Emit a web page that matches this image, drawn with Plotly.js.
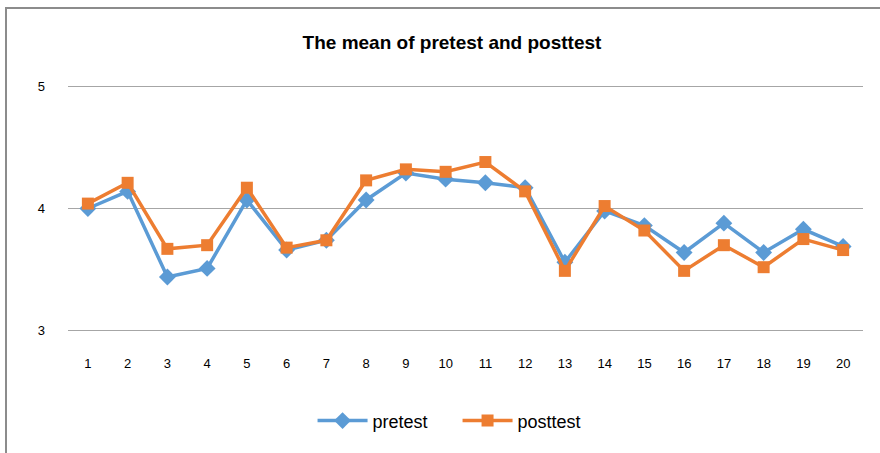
<!DOCTYPE html>
<html>
<head>
<meta charset="utf-8">
<script src="https://cdn.plot.ly/plotly-3.0.1.min.js"></script>
<style>
html,body{margin:0;padding:0;background:#fff;}
#wrap{position:relative;width:880px;height:453px;overflow:hidden;}
#chart{position:absolute;left:0;top:0;width:880px;height:453px;}
#frame{position:absolute;left:5px;top:7px;width:900px;height:480px;border-left:2px solid #8c8c8c;border-top:2px solid #8c8c8c;pointer-events:none;}
</style>
</head>
<body>
<div id="wrap"><div id="chart"></div><div id="frame"></div></div>
<script>
const categories = [1,2,3,4,5,6,7,8,9,10,11,12,13,14,15,16,17,18,19,20];
const pretest  = [4.00,4.14,3.44,3.51,4.07,3.66,3.74,4.07,4.29,4.24,4.21,4.17,3.56,3.98,3.86,3.64,3.88,3.64,3.83,3.69];
const posttest = [4.04,4.21,3.67,3.70,4.17,3.68,3.74,4.23,4.32,4.30,4.38,4.14,3.49,4.02,3.82,3.49,3.70,3.52,3.75,3.66];
const yTicks = [3,4,5];
const titleText = "The mean of pretest and posttest";

const traces = [
  {x: categories, y: pretest, name: "pretest", type: "scatter", mode: "lines+markers",
   line: {color: "#5B9BD5", width: 3.5}, marker: {symbol: "diamond", size: 13, color: "#5B9BD5"}},
  {x: categories, y: posttest, name: "posttest", type: "scatter", mode: "lines+markers",
   line: {color: "#ED7D31", width: 3.5}, marker: {symbol: "square", size: 12, color: "#ED7D31"}}
];

const layout = {
  width: 880, height: 453,
  margin: {l: 68, r: 17, t: 85, b: 121},
  paper_bgcolor: "#fff", plot_bgcolor: "#fff",
  font: {family: "Liberation Sans, Arial, sans-serif", color: "#000"},
  title: {text: "<b>" + titleText + "</b>", x: 0.483, xanchor: "center", xref: "paper", y: 0.907, yanchor: "middle",
          font: {size: 19, family: "Liberation Sans Narrow, Liberation Sans, Arial, sans-serif", color: "#000"}},
  xaxis: {range: [0.5, 20.5], tickvals: categories, ticktext: categories.map(String),
          showgrid: false, zeroline: false, showline: false, ticks: "", ticklabelstandoff: 22,
          tickfont: {size: 13, color: "#000"}, fixedrange: true},
  yaxis: {range: [2.99, 5.01], tickvals: yTicks, showgrid: true, gridcolor: "#a6a6a6", gridwidth: 1,
          zeroline: false, showline: false, ticks: "", ticklabelstandoff: 22,
          tickfont: {size: 13, color: "#000"}, fixedrange: true},
  showlegend: true,
  legend: {orientation: "h", x: 0.49, xanchor: "center", y: -0.36, yanchor: "middle",
           font: {size: 18, color: "#000"}, itemwidth: 50, entrywidth: 80, entrywidthmode: "pixels"},
};

Plotly.newPlot("chart", traces, layout, {displayModeBar: false, staticPlot: true});
</script>
</body>
</html>
